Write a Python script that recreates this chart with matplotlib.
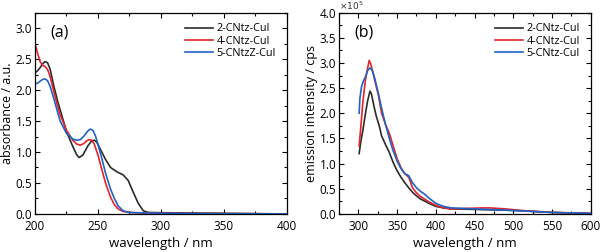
import matplotlib
matplotlib.use("Agg")
import matplotlib.pyplot as plt
from matplotlib.ticker import MultipleLocator, AutoMinorLocator, FuncFormatter

plt.rcParams['font.family'] = ['Open Sans', 'DejaVu Sans']

# ---- Panel (a): absorbance ----
wl_2a = [200, 202, 204, 206, 208, 210, 212, 215, 218, 220, 225, 230, 233, 235, 238, 242, 245, 247, 249, 252, 256, 260, 265, 270, 274, 278, 282, 286, 290, 300, 350, 400]
abs_2 = [2.28, 2.31, 2.36, 2.42, 2.46, 2.44, 2.34, 2.06, 1.82, 1.68, 1.33, 1.09, 0.96, 0.91, 0.95, 1.10, 1.18, 1.19, 1.16, 1.04, 0.88, 0.75, 0.68, 0.63, 0.54, 0.35, 0.17, 0.05, 0.025, 0.02, 0.01, 0.0]
wl_4a = [200, 202, 204, 206, 208, 210, 212, 215, 218, 220, 225, 230, 233, 236, 239, 241, 243, 245, 247, 250, 253, 256, 260, 263, 266, 270, 275, 280, 300, 350, 400]
abs_4 = [2.75, 2.60, 2.46, 2.40, 2.38, 2.33, 2.22, 1.97, 1.74, 1.60, 1.35, 1.19, 1.13, 1.11, 1.14, 1.18, 1.20, 1.19, 1.13, 0.95, 0.72, 0.50, 0.27, 0.15, 0.08, 0.04, 0.025, 0.02, 0.01, 0.005, 0.0]
wl_5a = [200, 202, 204, 206, 208, 210, 212, 215, 218, 220, 225, 230, 233, 236, 239, 242, 244, 246, 248, 250, 253, 256, 260, 263, 266, 270, 275, 280, 300, 350, 400]
abs_5 = [2.10, 2.11, 2.14, 2.17, 2.18, 2.15, 2.06, 1.86, 1.64, 1.50, 1.30, 1.21, 1.19, 1.20, 1.26, 1.34, 1.37, 1.35, 1.26, 1.12, 0.90, 0.66, 0.40, 0.25, 0.13, 0.05, 0.025, 0.02, 0.01, 0.005, 0.0]

# ---- Panel (b): emission (cps) ----
wl_2b = [301, 303, 306, 309, 312, 315, 317, 320, 323, 327, 330, 335, 340, 345, 350, 355, 360, 365, 370, 375, 380, 390, 400, 410, 420, 450, 500, 550, 600]
em_2 = [1.20e5, 1.42e5, 1.68e5, 1.98e5, 2.25e5, 2.44e5, 2.38e5, 2.15e5, 1.95e5, 1.75e5, 1.55e5, 1.38e5, 1.22e5, 1.02e5, 0.86e5, 0.73e5, 0.62e5, 0.52e5, 0.43e5, 0.36e5, 0.30e5, 0.22e5, 0.15e5, 0.12e5, 0.10e5, 0.09e5, 0.07e5, 0.03e5, 0.01e5]
wl_4b = [301, 303, 306, 309, 312, 314, 316, 319, 322, 326, 330, 335, 340, 345, 350, 355, 360, 365, 370, 375, 380, 390, 400, 410, 420, 440, 460, 470, 490, 510, 550, 600]
em_4 = [1.35e5, 1.70e5, 2.25e5, 2.65e5, 2.90e5, 3.05e5, 2.98e5, 2.80e5, 2.60e5, 2.35e5, 2.00e5, 1.78e5, 1.60e5, 1.35e5, 1.10e5, 0.92e5, 0.80e5, 0.73e5, 0.52e5, 0.42e5, 0.35e5, 0.25e5, 0.17e5, 0.12e5, 0.10e5, 0.11e5, 0.12e5, 0.12e5, 0.10e5, 0.07e5, 0.03e5, 0.01e5]
wl_5b = [301, 302, 304, 306, 309, 312, 315, 318, 321, 325, 330, 335, 340, 345, 350, 355, 360, 365, 370, 375, 380, 385, 390, 400, 410, 420, 450, 500, 550, 600]
em_5 = [2.00e5, 2.30e5, 2.52e5, 2.62e5, 2.72e5, 2.85e5, 2.90e5, 2.85e5, 2.70e5, 2.45e5, 2.10e5, 1.78e5, 1.50e5, 1.25e5, 1.05e5, 0.90e5, 0.80e5, 0.76e5, 0.62e5, 0.52e5, 0.45e5, 0.40e5, 0.33e5, 0.21e5, 0.15e5, 0.12e5, 0.10e5, 0.07e5, 0.03e5, 0.01e5]

labels_a = ['2-CNtz-CuI', '4-CNtz-CuI', '5-CNtzZ-CuI']
labels_b = ['2-CNtz-CuI', '4-CNtz-CuI', '5-CNtz-CuI']
colors = ['#2b2b2b', '#e3242b', '#1f63c6']

fig = plt.figure(figsize=(6.0, 2.52), dpi=100)
ax1 = fig.add_axes([0.0583, 0.151, 0.420, 0.799])
ax2 = fig.add_axes([0.565, 0.151, 0.4195, 0.799])

lw = 1.2
for wl, y, c, lab in zip([wl_2a, wl_4a, wl_5a], [abs_2, abs_4, abs_5], colors, labels_a):
    ax1.plot(wl, y, color=c, lw=lw, label=lab)
for wl, y, c, lab in zip([wl_2b, wl_4b, wl_5b], [em_2, em_4, em_5], colors, labels_b):
    ax2.plot(wl, y, color=c, lw=lw, label=lab)

ax1.set_xlim(200, 400)
ax1.set_ylim(0, 3.25)
ax1.xaxis.set_major_locator(MultipleLocator(50))
ax1.yaxis.set_major_locator(MultipleLocator(0.5))
ax1.yaxis.set_major_formatter(plt.FormatStrFormatter('%.1f'))

ax2.set_xlim(275, 600)
ax2.set_ylim(0, 4.0e5)
ax2.xaxis.set_major_locator(MultipleLocator(50))
ax2.yaxis.set_major_locator(MultipleLocator(0.5e5))
ax2.yaxis.set_major_formatter(FuncFormatter(lambda v, p: f'{v/1e5:.1f}'))
ax2.text(0.0, 1.005, r'$\times10^5$', transform=ax2.transAxes, fontsize=6.5,
         ha='left', va='bottom', color='#333333')

for ax in (ax1, ax2):
    ax.xaxis.set_minor_locator(AutoMinorLocator(2))
    ax.yaxis.set_minor_locator(AutoMinorLocator(2))
    ax.tick_params(which='both', direction='in', top=True, right=True, labelsize=8.5, width=0.8)
    ax.tick_params(axis='y', pad=2)
    ax.tick_params(axis='x', pad=4)
    ax.tick_params(which='major', length=3.5)
    ax.tick_params(which='minor', length=2)
    for s in ax.spines.values():
        s.set_linewidth(0.9)
    ax.set_xlabel('wavelength / nm', fontsize=9.5, labelpad=3)
    ax.legend(loc='upper right', frameon=False, fontsize=7.8, handlelength=2.6,
              handletextpad=0.3, labelspacing=0.1, borderaxespad=0.6)

ax1.set_ylabel('absorbance / a.u.', fontsize=9, labelpad=1)
ax2.set_ylabel('emission intensity / cps', fontsize=9, labelpad=1)
ax1.text(0.06, 0.94, '(a)', transform=ax1.transAxes, fontsize=11.5, va='top', ha='left')
ax2.text(0.06, 0.94, '(b)', transform=ax2.transAxes, fontsize=11.5, va='top', ha='left')

fig.savefig('out.png', dpi=100)
